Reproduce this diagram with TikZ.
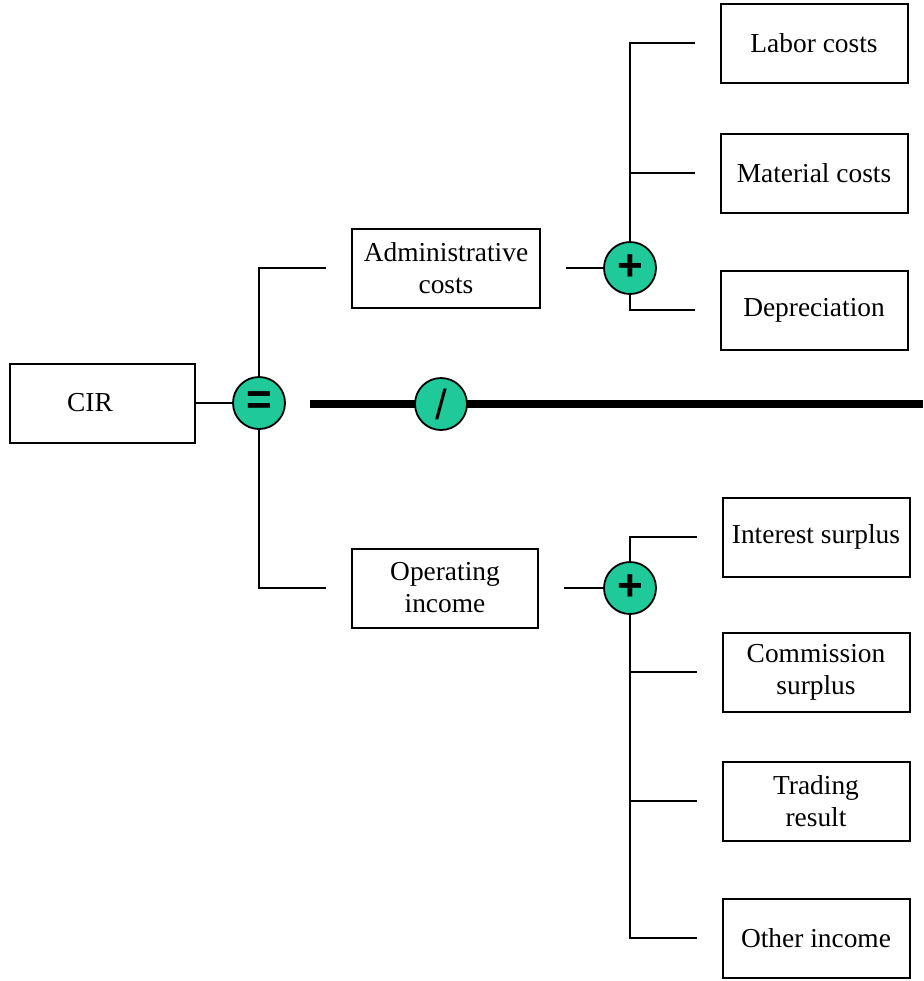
\documentclass[tikz,border=0pt]{standalone}
\usepackage{fontspec}
\setmainfont{Liberation Serif}
\setsansfont{Liberation Sans}
\usetikzlibrary{positioning, calc}
\definecolor{Teal}{HTML}{1FC99A}
\tikzset{
  itembox/.style={rectangle, draw=black, line width=1pt, fill=white,
                  minimum width=#1, minimum height=39.5pt, inner sep=1pt,
                  font=\fontsize{13.7}{16}\selectfont, align=center},
  itembox/.default=93.5pt,
  opcirc/.style={circle, draw=black, fill=Teal, line width=0.9pt,
                 minimum size=26pt, inner sep=0pt,
                 font=\sffamily\bfseries\fontsize{22}{22}\selectfont},
  link/.style={line width=1pt},
}
\begin{document}
\begin{tikzpicture}[x=0.5pt, y=-0.5pt]
  \useasboundingbox (0,0) rectangle (923,981);
  % main ratio
  \node[itembox=92.5pt] (cir) at (102,403) {CIR\hspace*{12pt}};
  \node[opcirc] (eq) at (259,403) {=};
  \node[itembox=94pt] (adm) at (446,268) {Administrative\\costs};
  \node[itembox=93pt] (opi) at (445,588) {Operating\\income};
  \draw[link] (cir) -- (eq);
  \draw[link] (eq.north) |- ([xshift=-12.5pt]adm.west);
  \draw[link] (eq.south) |- ([xshift=-12.5pt]opi.west);
  \coordinate (barL) at (310,404);
  \coordinate (barR) at (923,404);
  \draw[line width=4pt] (barL) -- (barR);
  \node[opcirc, font=\sffamily\fontsize{21}{21}\selectfont] (dv) at (441,404) {/};
  % cost side
  \node[opcirc] (pA) at (630,268) {+};
  \node[itembox] (lab) at (814,43) {Labor costs};
  \node[itembox] (mat) at (814,173) {Material costs};
  \node[itembox] (dep) at (814,310) {Depreciation};
  \draw[link] ([xshift=12.5pt]adm.east) -- (pA);
  \draw[link] (pA.north) |- ([xshift=-12.5pt]lab.west);
  \draw[link] (pA |- mat) -- ([xshift=-12.5pt]mat.west);
  \draw[link] (pA.south) |- ([xshift=-12.5pt]dep.west);
  % income side
  \node[opcirc] (pB) at (630,588) {+};
  \node[itembox] (int) at (816,537) {Interest surplus};
  \node[itembox] (com) at (816,672) {Commission\\surplus};
  \node[itembox] (trd) at (816,801) {Trading\\result};
  \node[itembox] (oth) at (816,938) {Other income};
  \draw[link] ([xshift=12.5pt]opi.east) -- (pB);
  \draw[link] (pB.north) |- ([xshift=-12.5pt]int.west);
  \draw[link] (pB |- com) -- ([xshift=-12.5pt]com.west);
  \draw[link] (pB |- trd) -- ([xshift=-12.5pt]trd.west);
  \draw[link] (pB.south) |- ([xshift=-12.5pt]oth.west);
\end{tikzpicture}
\end{document}
